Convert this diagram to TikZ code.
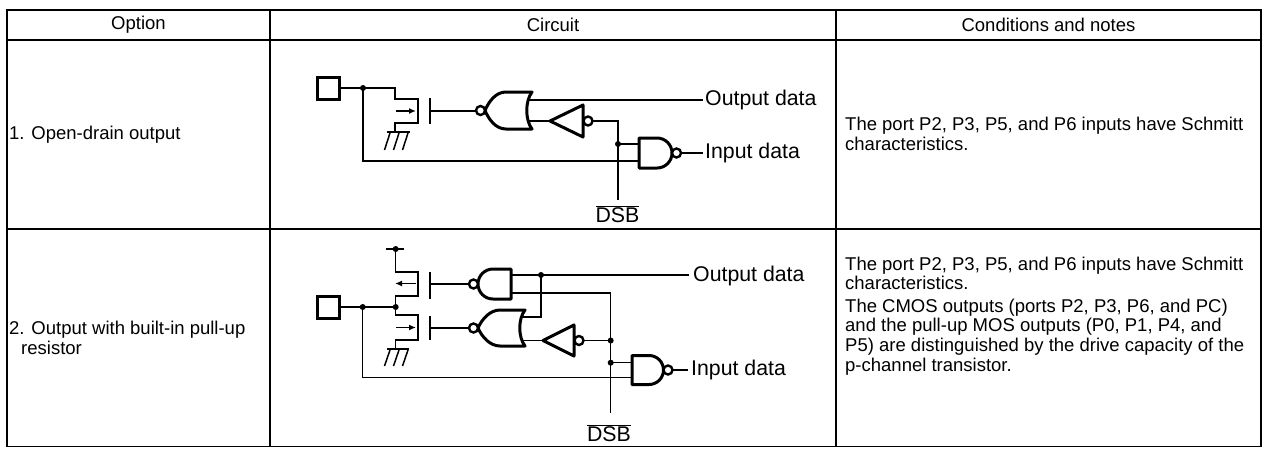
\documentclass[tikz,border=0pt]{standalone}
\usepackage{fontspec}
\setmainfont{Liberation Sans}
\usetikzlibrary{arrows.meta}
\newcommand\labfont{\fontsize{21.3}{25}\selectfont}
\newcommand\notefont{\fontsize{18.5}{19.8}\selectfont}
\begin{document}
\begin{tikzpicture}[x=1pt,y=-1pt,
  tbl/.style={line width=1.2pt},
  wire/.style={line width=1.5pt},
  gate/.style={line width=3pt,fill=white,line join=round},
  bub/.style={line width=2.4pt,fill=white},
  pad/.style={line width=3pt},
  tabtxt/.style={font=\notefont,inner sep=0pt},
  notetxt/.style={font=\notefont,inner sep=0pt,anchor=west,align=left},
  lab/.style={font=\labfont,inner sep=0pt,anchor=west},
  arr/.style={line width=1.5pt,-{Latex[length=7pt,width=6pt]}}]
\useasboundingbox (0,0) rectangle (1265,448);

% ---------------- table ----------------
\draw[tbl] (7,10) rectangle (1261,446.5);
\draw[tbl] (7,40) -- (1261,40);
\draw[tbl] (7,229) -- (1261,229);
\draw[tbl] (270,10) -- (270,446.5);
\draw[tbl] (836,10) -- (836,446.5);

\node[tabtxt] (h1) at (138.5,25) {Option};
\node[tabtxt] (h2) at (553,25) {Circuit};
\node[tabtxt] (h3) at (1048.5,25) {Conditions and notes};

\node[notetxt] (o1) at (9,134.5) {1. Open-drain output};
\node[notetxt] (o2) at (9,338) {2. Output with built-in pull-up\\\hspace*{12pt}resistor};

\node[notetxt] (n1) at (845,133.5) {The port P2, P3, P5, and P6 inputs have Schmitt\\characteristics.};
\node[notetxt] (n2) at (845,316) {The port P2, P3, P5, and P6 inputs have Schmitt\\characteristics.\\[2.5pt]The CMOS outputs (ports P2, P3, P6, and PC)\\and the pull-up MOS outputs (P0, P1, P4, and\\P5) are distinguished by the drive capacity of the\\p-channel transistor.};

% ================= circuit 1 =================
\coordinate (A1) at (363,88);
\coordinate (D1) at (618,144);
% pad
\draw[pad] (317,77) rectangle (339,99);
% wires
\draw[wire] (339,88) -- (395,88) -- (395,99) -- (418,99) -- (418,123) -- (395,123) -- (395,132);
\draw[wire] (A1) -- (363,161) -- (648,161);
\draw[wire] (387,132) -- (410,132);
\draw[wire] (390,133) -- (384.5,150) (399,133) -- (393.5,150) (408,133) -- (402.5,150);
\draw[arr] (396,111) -- (416,111);
\draw[wire] (430,98) -- (430,124);
\draw[wire] (430,111) -- (478,111);
\draw[wire] (522,100) -- (703,100);
\draw[wire] (522,121) -- (552,121);
\draw[wire] (590,121) -- (618,121) -- (618,200);
\draw[wire] (D1) -- (648,144);
\draw[wire] (678,153) -- (703,153);
% NOR (pointing left)
\draw[gate] (532,92) -- (506,92) .. controls (496,92) and (489,101) .. (485,110.5)
  .. controls (489,120) and (496,129) .. (506,129) -- (532,129)
  .. controls (525,120) and (525,101) .. (532,92) -- cycle;
\draw[bub] (480.5,110.5) circle[radius=4.5pt];
% inverter
\draw[gate] (583,105) -- (583,137) -- (550,121) -- cycle;
\draw[bub] (588,121) circle[radius=4.5pt];
% NAND (pointing right)
\draw[gate] (639,138) -- (657,138) .. controls (665.3,138) and (672,144.7) .. (672,153)
  .. controls (672,161.3) and (665.3,168) .. (657,168) -- (639,168) -- cycle;
\draw[bub] (676.5,153) circle[radius=4.5pt];
% dots
\fill (A1) circle[radius=3pt];
\fill (D1) circle[radius=3pt];
% labels
\node[lab] (od1) at (705,100) {Output data};
\node[lab] (id1) at (705,153) {Input data};
\node[font=\labfont,inner sep=0pt] (dsb1) at (617.5,214) {$\overline{\mbox{DSB}}$};

% ================= circuit 2 =================
\coordinate (V2) at (395.7,249);
\coordinate (A2) at (362.7,307);
\coordinate (B2) at (395.7,307);
\coordinate (C2) at (541,275);
\coordinate (E2) at (610.7,340.5);
\coordinate (F2) at (610.7,362.7);
% pad
\draw[pad] (317,296) rectangle (339,318);
% vdd and transistors
\draw[wire] (386,249) -- (404,249);
\draw[wire] (V2) -- (395.7,272) -- (418,272) -- (418,296) -- (395.7,296) -- (395.7,315) -- (418,315) -- (418,340) -- (395.7,340) -- (395.7,349);
\draw[wire] (387,349) -- (409,349);
\draw[wire] (390,350) -- (384.5,366) (399,350) -- (393.5,366) (408,350) -- (402.5,366);
\draw[arr] (416,283.5) -- (395,283.5);
\draw[arr] (396,327.5) -- (416,327.5);
\draw[wire] (430,272) -- (430,299);
\draw[wire] (430,316) -- (430,340);
\draw[wire] (430,284) -- (471,284);
\draw[wire] (430,328) -- (471,328);
\draw[wire] (339,307) -- (B2);
\draw[wire] (A2) -- (362.7,377.5) -- (642,377.5);
% logic wires
\draw[wire] (505,275) -- (689,275);
\draw[wire] (C2) -- (541,317) -- (518,317);
\draw[wire] (505,293) -- (610.7,293) -- (610.7,413);
\draw[wire] (518,340.5) -- (545,340.5);
\draw[wire] (581,340.5) -- (E2);
\draw[wire] (F2) -- (642,362.7);
\draw[wire] (670,370) -- (688,370);
% NAND top (pointing left)
\draw[gate] (511,269) -- (493,269) .. controls (484.7,269) and (478,275.7) .. (478,284)
  .. controls (478,292.3) and (484.7,299) .. (493,299) -- (511,299) -- cycle;
\draw[bub] (473.5,284) circle[radius=4.5pt];
% NOR (pointing left)
\draw[gate] (525,310) -- (500,310) .. controls (490,310) and (482,319) .. (478,328)
  .. controls (482,337) and (490,346) .. (500,346) -- (525,346)
  .. controls (518,337) and (518,319) .. (525,310) -- cycle;
\draw[bub] (473.5,328) circle[radius=4.5pt];
% inverter
\draw[gate] (574,325) -- (574,356) -- (543,340.5) -- cycle;
\draw[bub] (579,340.5) circle[radius=4.5pt];
% NAND bottom (pointing right)
\draw[gate] (632,355.5) -- (649,355.5) .. controls (657,355.5) and (663.5,362) .. (663.5,370)
  .. controls (663.5,378) and (657,384.5) .. (649,384.5) -- (632,384.5) -- cycle;
\draw[bub] (668,370) circle[radius=4.5pt];
% dots
\foreach \p in {V2,A2,B2,C2,E2,F2} \fill (\p) circle[radius=3pt];
% labels
\node[lab] (od2) at (693,276) {Output data};
\node[lab] (id2) at (691,370) {Input data};
\node[font=\labfont,inner sep=0pt] (dsb2) at (609,433) {$\overline{\mbox{DSB}}$};
\end{tikzpicture}
\end{document}
